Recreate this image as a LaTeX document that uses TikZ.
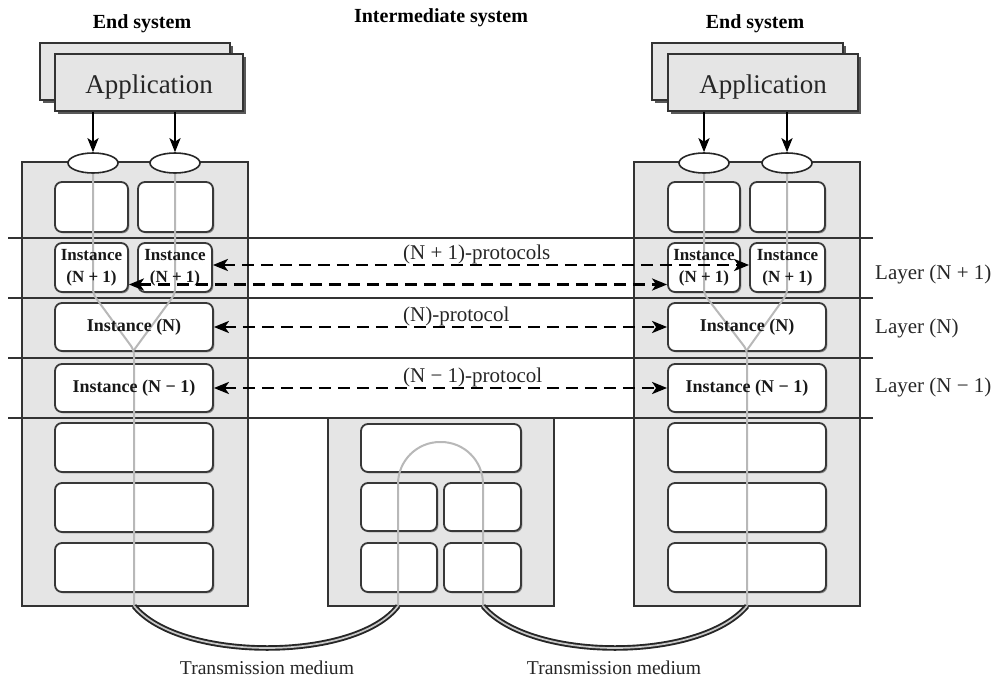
\documentclass[tikz,border=0pt]{standalone}
\usepackage{fontspec}
\setmainfont{Liberation Serif}
\usetikzlibrary{arrows.meta,shadows,shapes.geometric}

% place a node of a given kind on the rectangle (x1,y1)-(x2,y2)
\newcommand\boxon[6]{%
  \node[#1,minimum width={#5-#3},minimum height={#6-#4},inner sep=0pt]
    (#2) at ({(#3+#5)/2},{(#4+#6)/2}) {};}

\begin{document}
\begin{tikzpicture}[x=1pt,y=-1pt,
  sysbox/.style={draw=black!80,line width=1.4pt,fill=black!10},
  cell/.style={draw=black!78,line width=1.8pt,fill=white,rounded corners=7pt,
    drop shadow={shadow xshift=1.4pt,shadow yshift=-1.4pt,opacity=0.35,fill=black}},
  appbox/.style={draw=black!80,line width=1.5pt,fill=black!10,
    drop shadow={shadow xshift=3pt,shadow yshift=-3pt,opacity=1,fill=black!65}},
  port/.style={draw=black!85,line width=1.6pt,fill=white,ellipse,
    minimum width=50pt,minimum height=20pt,inner sep=0pt},
  layerline/.style={draw=black!80,line width=1.3pt},
  apparrow/.style={draw=black,line width=2.3pt,-{Stealth[length=14pt,width=11pt,inset=3.5pt]}},
  sig/.style={draw=black!28,line width=2pt,rounded corners=5pt},
  cable/.style={draw=black!85,line width=1.9pt,double=black!22,double distance=1.7pt},
  proto/.style={draw=black,line width=2.8pt,dash pattern=on 12pt off 7pt,
    {Stealth[length=15pt,width=12pt,inset=4pt]}-{Stealth[length=15pt,width=12pt,inset=4pt]}},
  heading/.style={font=\fontsize{20}{24}\bfseries\selectfont,inner sep=0pt,anchor=base},
  apptext/.style={font=\fontsize{27}{30}\selectfont,text=black!85,inner sep=0pt,anchor=base},
  celltext/.style={font=\fontsize{18}{22}\bfseries\selectfont,text=black!90,inner sep=0pt},
  celltext2/.style={font=\fontsize{17}{22}\bfseries\selectfont,text=black!90,inner sep=0pt,align=center},
  label/.style={font=\fontsize{21}{24}\selectfont,text=black!85,inner sep=0pt,anchor=base west},
  medium/.style={font=\fontsize{19.6}{23}\selectfont,text=black!85,inner sep=0pt,anchor=base},
]
\useasboundingbox (0,0) rectangle (995,677);

% systems
\boxon{sysbox}{lsys}{22}{162}{248}{606}
\boxon{sysbox}{rsys}{634}{162}{860}{606}
\boxon{sysbox}{isys}{328}{418}{554}{606}

% layer boundaries
\foreach \yy in {238,298,358,418}
  \draw[layerline] (8,\yy) -- (873,\yy);

% applications
\boxon{appbox}{lappb}{40}{43}{230}{100}
\boxon{appbox}{lapp}{55}{54}{243}{111}
\boxon{appbox}{rappb}{652}{43}{843}{100}
\boxon{appbox}{rapp}{668}{54}{858}{111}
\node[apptext] at (149,93) {Application};
\node[apptext] at (763,93) {Application};

% left end system stack
\boxon{cell}{ltopa}{55}{182}{128}{232}
\boxon{cell}{ltopb}{138}{182}{213}{232}
\boxon{cell}{lA}{55}{243}{128}{292}
\boxon{cell}{lB}{138}{243}{212}{292}
\boxon{cell}{lN}{55}{303}{213}{351}
\boxon{cell}{lM}{55}{364}{213}{412}
\boxon{cell}{lba}{55}{423}{213}{472}
\boxon{cell}{lbb}{55}{483}{213}{532}
\boxon{cell}{lbc}{55}{543}{213}{592}

% right end system stack
\boxon{cell}{rtopa}{668}{182}{740}{232}
\boxon{cell}{rtopb}{750}{182}{825}{232}
\boxon{cell}{rA}{668}{243}{740}{292}
\boxon{cell}{rB}{750}{243}{825}{292}
\boxon{cell}{rN}{668}{303}{826}{351}
\boxon{cell}{rM}{668}{364}{826}{412}
\boxon{cell}{rba}{668}{423}{826}{472}
\boxon{cell}{rbb}{668}{483}{826}{532}
\boxon{cell}{rbc}{668}{543}{826}{592}

% intermediate system stack
\boxon{cell}{ia}{361}{424}{521}{472}
\boxon{cell}{ib}{361}{483}{437}{531}
\boxon{cell}{ic}{444}{483}{521}{531}
\boxon{cell}{id}{361}{543}{437}{592}
\boxon{cell}{ie}{444}{543}{521}{592}

% service access points
\node[port] (lpa) at (93,163) {};
\node[port] (lpb) at (175,163) {};
\node[port] (rpa) at (704,163) {};
\node[port] (rpb) at (787,163) {};

\draw[apparrow] (lapp.south -| lpa) -- (lpa.north);
\draw[apparrow] (lapp.south -| lpb) -- (lpb.north);
\draw[apparrow] (rapp.south -| rpa) -- (rpa.north);
\draw[apparrow] (rapp.south -| rpb) -- (rpb.north);

% cable end points
\coordinate (c1a) at (134,606);
\coordinate (c1b) at (398,606);
\coordinate (c2a) at (483,606);
\coordinate (c2b) at (747,606);
\coordinate (lmerge) at (134,350);
\coordinate (rmerge) at (747,350);

% data paths
\draw[sig] (lpa.south) -- (93,294) -- (lmerge) -- (c1a);
\draw[sig] (lpb.south) -- (175,294) -- (lmerge);
\draw[sig] (rpa.south) -- (704,294) -- (rmerge) -- (c2b);
\draw[sig] (rpb.south) -- (787,294) -- (rmerge);
\draw[sig,rounded corners=42pt] (c1b) -- (398,442) -- (483,442) -- (c2a);

% instance labels
\node[celltext2] at (lA) {Instance\\(N + 1)};
\node[celltext2] at (lB) {Instance\\(N + 1)};
\node[celltext2] at (rA) {Instance\\(N + 1)};
\node[celltext2] at (rB) {Instance\\(N + 1)};
\node[celltext] at (lN) {Instance (N)};
\node[celltext] at (rN) {Instance (N)};
\node[celltext] at (lM) {Instance (N − 1)};
\node[celltext] at (rM) {Instance (N − 1)};

% transmission media
\draw[cable] (c1a) .. controls (180,662) and (355,662) .. (c1b);
\draw[cable] (c2a) .. controls (530,662) and (700,662) .. (c2b);

% peer protocols
\draw[proto] ([yshift=2.5pt]lB.east) -- ([yshift=2.5pt]rB.west);
\draw[proto] ([yshift=-17pt]lA.east) -- ([yshift=-17pt]rA.west);
\draw[proto] (lN.east) -- (rN.west);
\draw[proto] (lM.east) -- (rM.west);

% headings and labels
\node[heading] at (142,29) {End system};
\node[heading] at (755,29) {End system};
\node[heading] at (441,23) {Intermediate system};

\node[label] at (403,259) {(N + 1)-protocols};
\node[label] at (403,321) {(N)-protocol};
\node[label] at (403,382) {(N − 1)-protocol};

\node[label] at (875,279) {Layer (N + 1)};
\node[label] at (875,333) {Layer (N)};
\node[label] at (875,392) {Layer (N − 1)};

\node[medium] at (267,674) {Transmission medium};
\node[medium] at (614,674) {Transmission medium};
\end{tikzpicture}
\end{document}
